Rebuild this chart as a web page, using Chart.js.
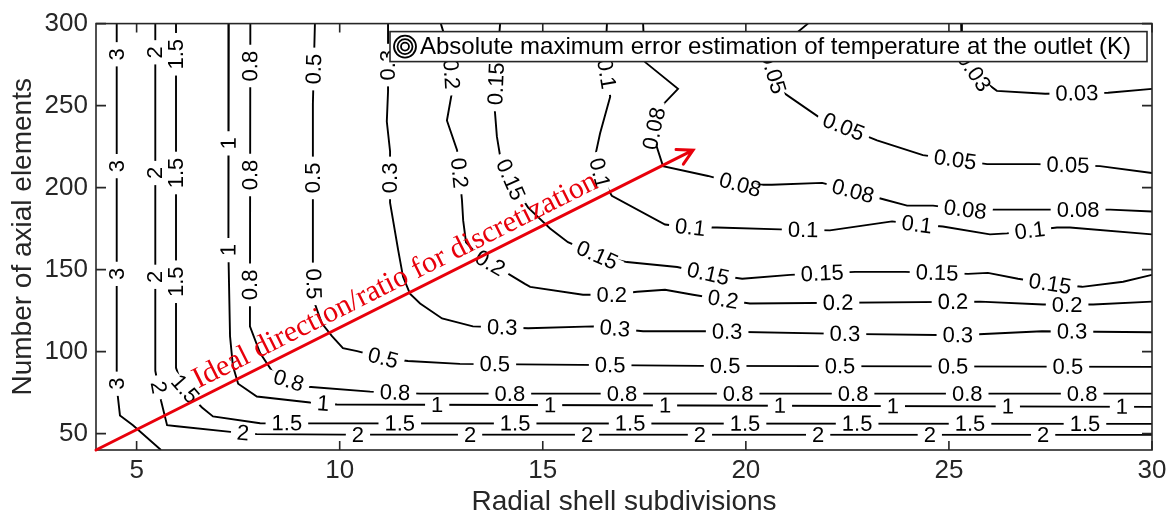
<!DOCTYPE html>
<html>
<head>
<meta charset="utf-8">
<script src="https://cdn.jsdelivr.net/npm/chart.js@4.4.0/dist/chart.umd.min.js"></script>
<style>
  html, body { margin: 0; padding: 0; background: #fff; }
</style>
</head>
<body>
<canvas id="myChart" width="1172" height="519"></canvas>
<script>
// axis ticks
const xTicks = [5, 10, 15, 20, 25, 30];
const yTicks = [50, 100, 150, 200, 250, 300];

// contour levels (K)
const levels = ['3', '2', '1.5', '1', '0.8', '0.5', '0.3', '0.2', '0.15', '0.1', '0.08', '0.05', '0.03'];

// traced contour paths: [radial subdivisions, axial elements]
const path3 = [[4.51,300],[4.51,78.6],[4.59,61.1],[4.91,55.1],[5.60,40]];
const path2 = [[5.46,300],[5.46,88.3],[5.60,70.2],[5.75,55.1],[5.99,54.5],[7.37,50.9],[7.96,49.7],[10.08,49.4],[30,49.2]];
const path15 = [[5.97,300],[5.97,90.1],[6.12,79.2],[6.44,70.2],[6.61,65.9],[6.88,60.5],[8.04,56.3],[30,55.9]];
const path1 = [[7.27,300],[7.26,160.7],[7.30,109.4],[7.37,91.3],[7.50,80.4],[7.96,72.6],[9.27,69.0],[9.93,67.7],[18.87,67.1],[30,66.3]];
const path08 = [[7.80,300],[7.79,115.4],[8.04,99.1],[8.33,88.3],[8.60,83.4],[9.22,78.6],[10.75,75.6],[11.98,74.4],[30,74.4]];
const path05 = [[9.39,300],[9.34,251.1],[9.34,154.6],[9.37,130.5],[9.56,117.2],[9.81,109.4],[10.08,102.1],[10.43,100.3],[11.07,96.1],[11.68,94.3],[12.96,92.5],[18.87,91.3],[30,90.7]];
const path03 = [[11.19,300],[11.19,258.4],[11.16,240.3],[11.24,222.2],[11.24,190.8],[11.44,161.9],[11.56,145.6],[11.73,135.3],[11.98,129.3],[12.52,120.2],[13.28,115.4],[14.64,114.2],[16.24,115.4],[17.47,112.4],[18.99,112.4],[22.4,110.8],[25.22,110.0],[27.29,112.4],[30,111.8]];
const path02 = [[12.49,300],[12.72,281.3],[12.77,259.0],[12.64,240.9],[12.89,222.8],[13.01,192.6],[13.04,180.0],[13.11,166.7],[13.45,157.6],[13.95,150.4],[14.56,141.3],[14.69,139.5],[15.99,134.7],[16.70,134.7],[17.32,136.5],[18.01,137.7],[18.70,134.7],[19.44,131.7],[20.10,129.3],[25.77,130.5],[27.32,128.7],[28.55,128.7],[30,130.5]];
const path015 = [[13.95,300],[13.87,275.3],[13.82,246.9],[13.87,231.2],[13.95,219.2],[14.24,202.9],[14.64,187.8],[15.18,175.1],[15.62,166.7],[16.34,158.8],[17.07,154.6],[18.31,151.6],[19.07,147.4],[19.91,144.4],[21.09,146.8],[22.69,148.6],[23.92,148.6],[25.47,147.4],[25.96,148.0],[26.70,144.4],[27.49,141.3],[28.28,139.5],[29.29,142.6],[30,146.8]];
const path01 = [[16.58,300],[16.53,275.3],[16.66,255.4],[16.41,233.0],[16.29,219.2],[16.41,207.7],[16.70,195.0],[18.01,177.5],[18.63,175.7],[19.29,175.7],[20.84,174.5],[22.07,173.9],[23.60,179.4],[24.21,177.5],[24.85,176.3],[26.01,171.5],[26.43,172.1],[27.66,175.7],[27.98,175.7],[30,171.5]];
const path008 = [[17.47,300],[17.50,284.3],[17.52,276.5],[18.33,260.2],[17.84,247.5],[17.71,232.4],[17.96,213.1],[19.07,207.1],[19.86,201.7],[20.64,201.7],[21.88,202.9],[23.43,192.6],[23.97,189.0],[24.61,189.0],[25.40,186.6],[27.42,186.6],[28.97,186.6],[30,185.4]];
const path005 = [[21.53,300],[20.55,280.1],[20.79,260.2],[21.78,243.3],[23.23,228.8],[24.36,219.8],[25.94,214.3],[27.17,214.3],[28.72,213.1],[30,208.9]];
const path003 = [[25.30,300],[25.32,281.3],[25.69,268.0],[26.18,259.0],[27.37,257.2],[28.92,257.8],[30,260.2]];

// where the inline level labels sit on each contour
const labels3 = [[4.51,281.3],[4.51,213.1],[4.51,147.4],[4.51,80.4]];
const labels2 = [[5.46,282.5],[5.46,208.9],[5.46,145.6],[5.50,78.0],[7.62,50.3],[10.45,49.4],[13.21,49.4],[16.09,49.4],[18.87,49.4],[21.78,49.4],[24.53,49.4],[27.32,49.4]];
const labels15 = [[5.97,281.3],[5.97,208.9],[5.97,142.6],[6.19,77.0],[8.70,56],[11.48,56],[14.32,56],[17.15,56],[19.98,56],[22.74,56],[25.52,56],[28.35,56]];
const labels1 = [[7.27,227.0],[7.27,161.9],[9.59,68.4],[12.40,67.4],[15.18,67.3],[18.01,67.1],[20.84,66.9],[23.62,66.7],[26.45,66.5],[29.26,66.4]];
const labels08 = [[7.80,274.1],[7.80,207.7],[7.80,140.7],[8.75,82.5],[11.36,74.4],[14.19,74.4],[16.95,74.4],[19.81,74.4],[22.64,74.4],[25.45,74.4],[28.28,74.4]];
const labels05 = [[9.36,272.3],[9.34,205.9],[9.35,141.3],[11.07,96.1],[13.82,92.3],[16.66,92],[19.49,91.3],[22.32,91.1],[25.10,91],[27.93,90.8]];
const labels03 = [[11.18,274.7],[11.24,205.9],[14.0,114.6],[16.78,114.4],[19.54,112.2],[22.44,110.8],[25.22,110.0],[28.03,112.2]];
const labels02 = [[12.75,269.2],[12.95,208.9],[13.70,153.9],[16.70,134.7],[19.44,131.7],[22.27,129.6],[25.10,130.2],[27.91,128.7]];
const labels015 = [[13.90,263.2],[14.19,204.7],[16.34,158.8],[19.07,147.4],[21.88,147.4],[24.71,148.6],[27.49,141.3]];
const labels01 = [[16.53,269.2],[16.41,208.9],[18.63,175.7],[21.41,174.3],[24.21,177.5],[27.0,172.5]];
const labels008 = [[17.74,236],[19.86,201.7],[22.64,197.8],[25.40,186.6],[28.18,186.6]];
const labels005 = [[20.67,270],[22.39,236.1],[25.15,216.6],[27.93,213.7]];
const labels003 = [[25.60,270.5],[28.15,257.4]];

const paths = [path3, path2, path15, path1, path08, path05, path03, path02, path015, path01, path008, path005, path003];
const labelSpots = [labels3, labels2, labels15, labels1, labels08, labels05, labels03, labels02, labels015, labels01, labels008, labels005, labels003];

// red annotation
const arrowFrom = [4, 40];
const arrowTo = [18.70, 222.8];
const arrowText = 'Ideal direction/ratio for discretization';
const legendText = 'Absolute maximum error estimation of temperature at the outlet (K)';

const AXIS = '#262626';
const SANS = '"Liberation Sans", Arial, sans-serif';

// contour labels, with the line broken under each one
const contourLabels = {
	id: 'contourLabels',
	afterDatasetsDraw(chart) {
		const { ctx, scales: { x, y } } = chart;
		const items = [];
		levels.forEach((lv, i) => {
			const pts = paths[i].map((p) => [x.getPixelForValue(p[0]), y.getPixelForValue(p[1])]);
			labelSpots[i].forEach((l) => {
				const lx = x.getPixelForValue(l[0]);
				const ly = y.getPixelForValue(l[1]);
				let best = null;
				for (let k = 0; k < pts.length - 1; k++) {
					const [ax, ay] = pts[k];
					const [bx, by] = pts[k + 1];
					const dx = bx - ax, dy = by - ay;
					const len2 = dx * dx + dy * dy || 1;
					let t = ((lx - ax) * dx + (ly - ay) * dy) / len2;
					t = Math.max(0, Math.min(1, t));
					const px = ax + t * dx, py = ay + t * dy;
					const d = (px - lx) ** 2 + (py - ly) ** 2;
					if (!best || d < best.d) best = { d, px, py, a: Math.atan2(dy, dx) };
				}
				let a = best.a;
				if (a >= Math.PI / 2 - 1e-6) a -= Math.PI;
				if (a < -Math.PI / 2) a += Math.PI;
				items.push({ text: lv, x: best.px, y: best.py, a });
			});
		});
		ctx.save();
		ctx.font = '22px ' + SANS;
		items.forEach((it) => {
			const w = ctx.measureText(it.text).width;
			ctx.save();
			ctx.translate(it.x, it.y);
			ctx.rotate(it.a);
			ctx.fillStyle = '#fff';
			ctx.fillRect(-w / 2 - 6, -5, w + 12, 10);
			ctx.restore();
		});
		ctx.fillStyle = '#000';
		ctx.textAlign = 'center';
		ctx.textBaseline = 'middle';
		items.forEach((it) => {
			ctx.save();
			ctx.translate(it.x, it.y);
			ctx.rotate(it.a);
			ctx.fillText(it.text, 0, 1);
			ctx.restore();
		});
		ctx.restore();
	},
};

// box around the axes with inward ticks on all four sides
const axesBox = {
	id: 'axesBox',
	afterDraw(chart) {
		const { ctx, chartArea: { left, top, right, bottom }, scales: { x, y } } = chart;
		ctx.save();
		ctx.strokeStyle = AXIS;
		ctx.lineWidth = 1.6;
		ctx.strokeRect(left, top, right - left, bottom - top);
		ctx.beginPath();
		xTicks.forEach((v) => {
			const px = x.getPixelForValue(v);
			ctx.moveTo(px, bottom); ctx.lineTo(px, bottom - 9);
			ctx.moveTo(px, top); ctx.lineTo(px, top + 9);
		});
		yTicks.forEach((v) => {
			const py = y.getPixelForValue(v);
			ctx.moveTo(left, py); ctx.lineTo(left + 10, py);
			ctx.moveTo(right, py); ctx.lineTo(right - 10, py);
		});
		ctx.stroke();
		ctx.restore();
	},
};

// legend box inside the axes, top right
const legendBox = {
	id: 'legendBox',
	afterDraw(chart) {
		const { ctx, chartArea } = chart;
		const L = chartArea.left + 294, T = chartArea.top + 8;
		const R = chartArea.right - 5, B = T + 30;
		const cy = (T + B) / 2;
		ctx.save();
		ctx.fillStyle = '#fff';
		ctx.fillRect(L, T, R - L, B - T);
		ctx.strokeStyle = AXIS;
		ctx.lineWidth = 1.6;
		ctx.strokeRect(L, T, R - L, B - T);
		ctx.strokeStyle = '#000';
		ctx.lineWidth = 1.8;
		[11, 7.5, 4].forEach((r) => {
			ctx.beginPath();
			ctx.arc(L + 15, cy, r, 0, Math.PI * 2);
			ctx.stroke();
		});
		ctx.fillStyle = '#000';
		ctx.font = '24px ' + SANS;
		ctx.textBaseline = 'middle';
		ctx.fillText(legendText, L + 30, cy + 1);
		ctx.restore();
	},
};

// red arrow with its caption
const idealArrow = {
	id: 'idealArrow',
	afterDraw(chart) {
		const { ctx, scales: { x, y } } = chart;
		const x0 = x.getPixelForValue(arrowFrom[0]), y0 = y.getPixelForValue(arrowFrom[1]);
		const x1 = x.getPixelForValue(arrowTo[0]), y1 = y.getPixelForValue(arrowTo[1]);
		const a = Math.atan2(y1 - y0, x1 - x0);
		const len = Math.hypot(x1 - x0, y1 - y0);
		ctx.save();
		ctx.strokeStyle = '#e8000b';
		ctx.fillStyle = '#e8000b';
		ctx.lineWidth = 3;
		ctx.lineCap = 'round';
		ctx.beginPath();
		ctx.moveTo(x0, y0);
		ctx.lineTo(x1, y1);
		const hl = 17, ha = 0.5;
		ctx.moveTo(x1 - hl * Math.cos(a - ha), y1 - hl * Math.sin(a - ha));
		ctx.lineTo(x1, y1);
		ctx.lineTo(x1 - hl * Math.cos(a + ha), y1 - hl * Math.sin(a + ha));
		ctx.stroke();
		ctx.translate(x0 + Math.cos(a) * len * 0.178, y0 + Math.sin(a) * len * 0.178);
		ctx.rotate(a);
		ctx.font = '30px "Liberation Serif", "Times New Roman", serif';
		ctx.textBaseline = 'alphabetic';
		ctx.fillText(arrowText, 0, -9);
		ctx.restore();
	},
};

const ctx = document.getElementById('myChart');

new Chart(ctx, {
	type: 'scatter',
	data: {
		datasets: levels.map((lv, i) => ({
			label: lv,
			data: paths[i].map((p) => ({ x: p[0], y: p[1] })),
			showLine: true,
			borderColor: '#000',
			borderWidth: 1.9,
			pointRadius: 0,
			fill: false,
			tension: 0,
		})),
	},
	options: {
		responsive: false,
		animation: false,
		devicePixelRatio: 1,
		layout: { padding: { top: 19, right: 20, left: 0, bottom: 0 } },
		plugins: {
			legend: { display: false },
			tooltip: { enabled: false },
		},
		scales: {
			x: {
				type: 'linear',
				min: 4,
				max: 30,
				afterBuildTicks: (s) => { s.ticks = xTicks.map((v) => ({ value: v })); },
				afterFit: (s) => { s.height = 69; },
				grid: { display: false, drawTicks: false },
				border: { display: false },
				ticks: { color: AXIS, font: { family: SANS, size: 26 }, padding: 5, maxRotation: 0, autoSkip: false },
				title: { display: true, text: 'Radial shell subdivisions', color: AXIS, font: { family: SANS, size: 28 }, padding: { top: 0, bottom: 0 } },
			},
			y: {
				type: 'linear',
				min: 40,
				max: 300,
				afterBuildTicks: (s) => { s.ticks = yTicks.map((v) => ({ value: v })); },
				afterFit: (s) => { s.width = 96; },
				grid: { display: false, drawTicks: false },
				border: { display: false },
				ticks: { color: AXIS, font: { family: SANS, size: 26 }, padding: 8, autoSkip: false },
				title: { display: true, text: 'Number of axial elements', color: AXIS, font: { family: SANS, size: 28 }, padding: { top: 6, bottom: 0 } },
			},
		},
	},
	plugins: [contourLabels, axesBox, legendBox, idealArrow],
});
</script>
</body>
</html>
